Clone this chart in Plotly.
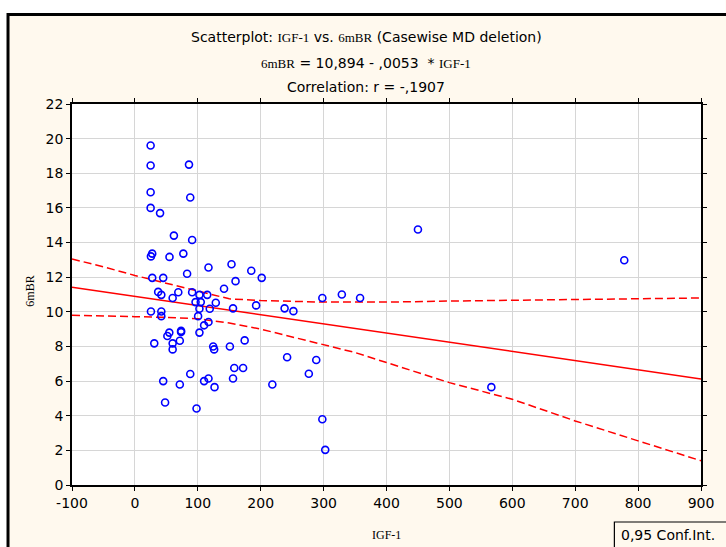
import plotly.graph_objects as go

# ---- data ----
igf1 = [25, 25, 25, 25, 40, 86, 88, 62, 91, 27.5,
        25.5, 55, 77, 117, 153.6, 185, 83, 27.6, 45, 160,
        201.6, 141.7, 37, 42, 69, 60, 91, 102.6, 115, 96.4,
        104.7, 128.6, 102.6, 119, 156, 25.5, 42, 42, 100.5, 117,
        110, 102.6, 54.7, 51.6, 73.4, 73.4, 30.8, 60, 71.4, 60,
        124.5, 126, 151, 174.5, 192.7, 238, 252, 298, 329, 358,
        158, 172, 88, 45, 71.4, 110, 117, 126.6, 156, 48,
        98, 218.5, 242, 276.5, 288.3, 298, 302.6, 450, 778, 566.7]
mbr = [19.6, 18.45, 16.9, 16.0, 15.7, 18.5, 16.6, 14.4, 14.15, 13.36,
       13.2, 13.17, 13.36, 12.56, 12.75, 12.37, 12.2, 11.96, 11.96, 11.77,
       11.96, 11.33, 11.15, 10.98, 11.13, 10.8, 11.13, 10.98, 10.98, 10.56,
       10.56, 10.52, 10.18, 10.18, 10.2, 10.02, 10.02, 9.75, 9.75, 9.41,
       9.22, 8.8, 8.8, 8.6, 8.83, 8.9, 8.18, 8.18, 8.33, 7.83,
       8.0, 7.83, 8.0, 8.35, 10.37, 10.2, 10.04, 10.8, 11.0, 10.8,
       6.76, 6.76, 6.41, 6.0, 5.8, 6.0, 6.15, 5.65, 6.15, 4.76,
       4.42, 5.8, 7.38, 6.42, 7.22, 3.8, 2.03, 14.75, 12.98, 5.65]

intercept = 10.894
slope = -0.0053
line_x = [-100, 900]

band_x = [-100, -50, 0, 50, 100, 150, 200, 250, 300, 350, 400, 500, 600, 700, 800, 900]
band_upper = [13.05, 12.6, 12.1, 11.65, 11.2, 10.75, 10.65, 10.6, 10.56, 10.56,
              10.56, 10.62, 10.67, 10.71, 10.78, 10.8]
band_lower = [9.8, 9.78, 9.72, 9.68, 9.6, 9.35, 9.0, 8.55, 8.12, 7.65,
              7.07, 5.91, 4.95, 3.7, 2.55, 1.4]

x_ticks = list(range(-100, 901, 100))
x_tick_labels = [str(v) for v in x_ticks]
y_ticks = list(range(0, 23, 2))
y_tick_labels = [str(v) for v in y_ticks]

title_sans = "Scatterplot: "
var_x = "IGF-1"
var_y = "6mBR"
legend_text = "0,95 Conf.Int."

# ---- layout geometry ----
W, H = 726, 547
L, R, T, B = 72, 15, 104, 62
PW, PH = W - L - R, H - T - B


def px(x):
    return (x - L) / PW


def py(y):
    return (H - B - y) / PH


SANS = "DejaVu Sans"
SERIF = "Liberation Serif"
BG = "#FFF9EE"


def serif(t, size=13):
    return f'<span style="font-family:{SERIF};font-size:{size}px">{t}</span>'


fig = go.Figure()

fig.add_trace(go.Scatter(
    x=band_x, y=band_upper, mode="lines",
    line=dict(color="#FF0000", width=1.5, dash="8px,4px"), hoverinfo="skip"))
fig.add_trace(go.Scatter(
    x=band_x, y=band_lower, mode="lines",
    line=dict(color="#FF0000", width=1.5, dash="8px,4px"), hoverinfo="skip"))
fig.add_trace(go.Scatter(
    x=line_x, y=[intercept + slope * v for v in line_x], mode="lines",
    line=dict(color="#FF0000", width=1.5), hoverinfo="skip"))
fig.add_trace(go.Scatter(
    x=igf1, y=mbr, mode="markers",
    marker=dict(symbol="circle-open", size=7, color="#0000FF",
                line=dict(width=1.6, color="#0000FF"))))

axis_common = dict(
    showline=True, linecolor="black", linewidth=1.5, mirror="ticks",
    ticks="outside", ticklen=4, tickcolor="black", tickwidth=1,
    showgrid=True, gridcolor="#D6D6D6", gridwidth=1, zeroline=False,
    tickfont=dict(family=SANS, size=14, color="black"),
)

fig.update_xaxes(range=[-100, 900], tickvals=x_ticks, ticktext=x_tick_labels, **axis_common)
fig.update_yaxes(range=[0, 22], tickvals=y_ticks, ticktext=y_tick_labels, **axis_common)

shapes = [
    # white strips outside the frame
    dict(type="rect", xref="paper", yref="paper", x0=px(-10), x1=px(W + 10),
         y0=py(14.5), y1=py(-10), fillcolor="white", line=dict(width=0), layer="above"),
    dict(type="rect", xref="paper", yref="paper", x0=px(-10), x1=px(7),
         y0=py(H + 10), y1=py(-10), fillcolor="white", line=dict(width=0), layer="above"),
    # outer frame
    dict(type="rect", xref="paper", yref="paper", x0=px(7), x1=px(W + 40),
         y0=py(H + 40), y1=py(14.5), line=dict(color="black", width=3), layer="above"),
    # legend box
    dict(type="rect", xref="paper", yref="paper", x0=px(623), x1=px(W + 40),
         y0=py(H + 40), y1=py(522), line=dict(color="black", width=1.2), layer="above"),
]

annotations = [
    dict(text=title_sans + serif(var_x) + " vs. " + serif(var_y) + " (Casewise MD deletion)",
         x=px(371), y=py(37)),
    dict(text=serif(var_y) + " = 10,894 - ,0053  * " + serif(var_x),
         x=px(371), y=py(63)),
    dict(text="Correlation: r = -,1907", x=px(371), y=py(87)),
    dict(text=serif(var_x, 12), x=px(392), y=py(535)),
    dict(text=serif(var_y, 12), x=px(29), y=py(291), textangle=-90),
    dict(text=legend_text, x=px(628), y=py(535), xanchor="left"),
]
for a in annotations:
    a.setdefault("xanchor", "center")
    a.update(xref="paper", yref="paper", yanchor="middle", showarrow=False,
             font=dict(family=SANS, size=14, color="black"))

fig.update_layout(
    width=W, height=H, margin=dict(l=L, r=R, t=T, b=B, pad=0),
    paper_bgcolor=BG, plot_bgcolor="white", showlegend=False,
    font=dict(family=SANS, size=14, color="black"),
    shapes=shapes, annotations=annotations,
)

fig.write_html("out.html", config={"displayModeBar": False},
               post_script="document.body.style.margin='0px';")
